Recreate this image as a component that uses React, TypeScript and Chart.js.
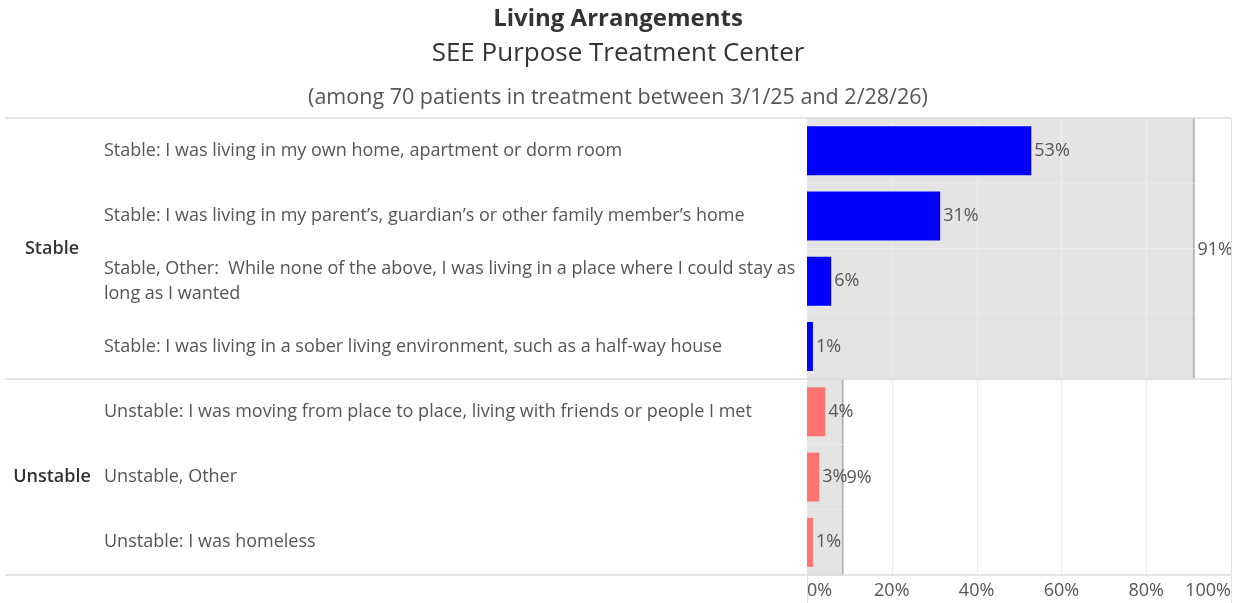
import React, { useEffect, useRef } from "react";
import { Chart, registerables } from "chart.js";

Chart.register(...registerables);

const titleLines = ["Living Arrangements", "SEE Purpose Treatment Center"];
const subtitleText = "(among 70 patients in treatment between 3/1/25 and 2/28/26)";

const groups = ["Stable", "Unstable"];
const groupTotals = [91.4, 8.6];

const categories: (string | string[])[] = [
  "Stable: I was living in my own home, apartment or dorm room",
  "Stable: I was living in my parent\u2019s, guardian\u2019s or other family member\u2019s home",
  [
    "Stable, Other:  While none of the above, I was living in a place where I could stay as",
    "long as I wanted",
  ],
  "Stable: I was living in a sober living environment, such as a half-way house",
  "Unstable: I was moving from place to place, living with friends or people I met",
  "Unstable, Other",
  "Unstable: I was homeless",
];
const categoryGroup = [0, 0, 0, 0, 1, 1, 1];
const values = [52.9, 31.4, 5.7, 1.4, 4.3, 2.9, 1.4];

const xTicks = [0, 20, 40, 60, 80, 100];
const groupColors = ["#0000ff", "#ff7373"];

const FONT = "'Open Sans', sans-serif";

export default function App() {
  const ref = useRef<HTMLCanvasElement | null>(null);

  useEffect(() => {
    document.body.style.margin = "0";
    const canvas = ref.current;
    if (!canvas) return;

    const decorPlugin = {
      id: "decor",
      afterDatasetDraw(chart: any, args: any) {
        if (args.index !== 0) return;
        const { ctx, chartArea, scales } = chart;
        const x = scales.x;
        ctx.save();
        ctx.strokeStyle = "#ededed";
        ctx.lineWidth = 1;
        xTicks.slice(1, -1).forEach((t) => {
          const px = Math.round(x.getPixelForValue(t)) + 0.5;
          ctx.beginPath();
          ctx.moveTo(px, chartArea.top);
          ctx.lineTo(px, chartArea.bottom);
          ctx.stroke();
        });
        ctx.restore();
      },
      afterDatasetsDraw(chart: any) {
        const { ctx, chartArea, scales } = chart;
        const x = scales.x;
        const y = scales.y;
        ctx.save();
        // value labels
        const meta = chart.getDatasetMeta(1);
        ctx.font = `18px ${FONT}`;
        ctx.fillStyle = "#555555";
        ctx.textBaseline = "middle";
        ctx.textAlign = "left";
        meta.data.forEach((bar: any, i: number) => {
          ctx.fillText(Math.round(values[i]) + "%", bar.x + 3, bar.y);
        });
        // group totals + group labels
        groups.forEach((g, gi) => {
          const idx = categoryGroup
            .map((c, i) => (c === gi ? i : -1))
            .filter((i) => i >= 0);
          const first = idx[0];
          const last = idx[idx.length - 1];
          const cy = (y.getPixelForValue(first) + y.getPixelForValue(last)) / 2;
          ctx.font = `18px ${FONT}`;
          ctx.fillStyle = "#555555";
          ctx.textAlign = "left";
          ctx.fillText(Math.round(groupTotals[gi]) + "%", x.getPixelForValue(groupTotals[gi]) + 3, cy + 1);
          ctx.font = `600 18px ${FONT}`;
          ctx.fillStyle = "#333333";
          ctx.textAlign = "center";
          ctx.fillText(g, 52, cy);
        });
        // separators
        const seps: number[] = [chartArea.top];
        for (let i = 1; i < categories.length; i++) {
          if (categoryGroup[i] !== categoryGroup[i - 1]) {
            seps.push((y.getPixelForValue(i - 1) + y.getPixelForValue(i)) / 2);
          }
        }
        seps.push(chartArea.bottom);
        ctx.strokeStyle = "#dadada";
        ctx.lineWidth = 1.5;
        seps.forEach((sy) => {
          ctx.beginPath();
          ctx.moveTo(5, Math.round(sy));
          ctx.lineTo(chartArea.right, Math.round(sy));
          ctx.stroke();
        });
        // right border and axis edges
        ctx.strokeStyle = "#e2e2e2";
        ctx.lineWidth = 1;
        ctx.beginPath();
        ctx.moveTo(Math.round(chartArea.right) + 0.5, chartArea.top);
        ctx.lineTo(Math.round(chartArea.right) + 0.5, chart.height);
        ctx.moveTo(Math.round(chartArea.left) + 0.5, chartArea.bottom);
        ctx.lineTo(Math.round(chartArea.left) + 0.5, chart.height);
        ctx.stroke();
        // header
        const cx = chart.width / 2;
        ctx.textAlign = "center";
        ctx.textBaseline = "middle";
        ctx.fillStyle = "#333333";
        ctx.font = `bold 24px ${FONT}`;
        ctx.fillText(titleLines[0], cx, 19);
        ctx.font = `26px ${FONT}`;
        ctx.fillText(titleLines[1], cx, 54);
        ctx.fillStyle = "#555555";
        ctx.font = `21.5px ${FONT}`;
        ctx.fillText(subtitleText, cx, 98);
        ctx.restore();
      },
    };

    const chart = new Chart(canvas, {
      type: "bar",
      data: {
        labels: categories as any,
        datasets: [
          {
            label: "Group total",
            data: categoryGroup.map((g) => groupTotals[g]),
            backgroundColor: "#e4e4e4",
            borderColor: "#b3b3b3",
            borderWidth: { top: 0, right: 2, bottom: 0, left: 0 } as any,
            borderSkipped: false,
            barPercentage: 1,
            categoryPercentage: 1,
            grouped: false,
            order: 2,
          },
          {
            label: "Share",
            data: values,
            backgroundColor: categoryGroup.map((g) => groupColors[g]),
            borderWidth: 0,
            barPercentage: 0.75,
            categoryPercentage: 1,
            grouped: false,
            order: 1,
          },
        ],
      },
      options: {
        indexAxis: "y",
        animation: false,
        responsive: false,
        maintainAspectRatio: false,
        layout: { padding: { left: 104, top: 118, right: 3, bottom: 0 } },
        plugins: {
          legend: { display: false },
          tooltip: { enabled: false },
          title: { display: false },
        },
        scales: {
          x: {
            type: "linear",
            min: 0,
            max: 100,
            afterFit(scale: any) {
              scale.height = 28;
            },
            afterBuildTicks(scale: any) {
              scale.ticks = xTicks.map((v) => ({ value: v }));
            },
            ticks: {
              callback: (v: any) => v + "%",
              align: "inner",
              padding: 5,
              color: "#555555",
              font: { family: FONT, size: 18 },
            },
            grid: { display: false, drawTicks: false },
            border: { display: false },
          },
          y: {
            type: "category",
            afterFit(scale: any) {
              scale.width = 703;
            },
            ticks: {
              crossAlign: "far",
              color: "#555555",
              autoSkip: false,
              font: { family: FONT, size: 18, lineHeight: 1.39 },
            },
            grid: { display: false, drawTicks: false },
            border: { display: false },
          },
        },
      } as any,
      plugins: [decorPlugin],
    });
    return () => chart.destroy();
  }, []);

  return (
    <div style={{ width: 1236, height: 603 }}>
      <canvas ref={ref} width={1236} height={603} style={{ display: "block" }} />
    </div>
  );
}
